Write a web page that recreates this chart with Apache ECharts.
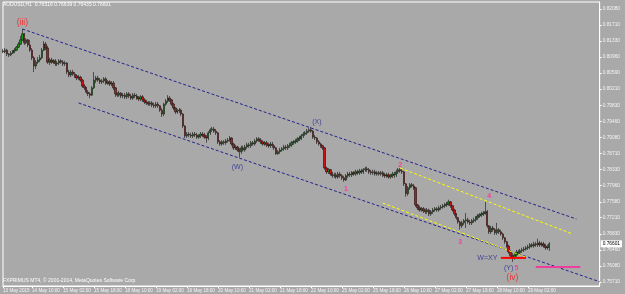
<!DOCTYPE html>
<html><head><meta charset="utf-8">
<script src="https://cdn.jsdelivr.net/npm/echarts@6/dist/echarts.min.js"></script>
<style>html,body{margin:0;padding:0;background:#a9a9a9}#c{width:625px;height:294px}</style>
</head><body><div id="c"></div><script>
const symbolName = 'AUDUSD,H1';
const copyright = 'FXPRIMUS MT4, \u00a9 2001-2014, MetaQuotes Software Corp.';
const dayNames = ['13 May','14 May','15 May','18 May','19 May','20 May','21 May','22 May','25 May','26 May','27 May','28 May','29 May'];
const firstHour = 19;
// rows: [open, close, low, high]
const may13 = [[.8110,.8108,.8105,.8115],[.8108,.8112,.8105,.8117],[.8112,.8103,.8098,.8115],[.8103,.8101,.8096,.8105],[.8101,.8105,.8098,.8110]];
const may14 = [[.8105,.8110,.8103,.8112],[.8110,.8112,.8105,.8117],[.8112,.8119,.8110,.8122],[.8119,.8126,.8117,.8131],[.8126,.8136,.8124,.8145],[.8136,.8150,.8133,.8161],[.8150,.8129,.8124,.8152],[.8129,.8136,.8126,.8140],[.8136,.8124,.8119,.8138],[.8124,.8112,.8108,.8136],[.8112,.8094,.8089,.8117],[.8094,.8075,.8061,.8098],[.8075,.8084,.8068,.8089],[.8084,.8089,.8080,.8096],[.8089,.8094,.8084,.8101],[.8094,.8112,.8091,.8117],[.8112,.8126,.8110,.8133],[.8126,.8117,.8112,.8131],[.8117,.8084,.8080,.8122],[.8084,.8089,.8077,.8094],[.8089,.8084,.8080,.8094],[.8084,.8087,.8080,.8091],[.8087,.8080,.8075,.8091],[.8080,.8082,.8075,.8087]];
const may15 = [[.8082,.8087,.8077,.8091],[.8087,.8084,.8080,.8091],[.8084,.8080,.8075,.8089],[.8080,.8082,.8075,.8087],[.8082,.8061,.8056,.8084],[.8061,.8054,.8049,.8066],[.8054,.8061,.8049,.8066],[.8061,.8056,.8052,.8066],[.8056,.8052,.8047,.8061],[.8052,.8047,.8042,.8056],[.8047,.8049,.8042,.8054],[.8049,.8042,.8038,.8052],[.8042,.8028,.8024,.8045],[.8028,.8024,.8019,.8033],[.8024,.8014,.8010,.8026],[.8014,.8010,.8005,.8019],[.8010,.8007,.8000,.8014],[.8007,.8024,.8005,.8028],[.8024,.8042,.8021,.8061],[.8042,.8047,.8035,.8052],[.8047,.8042,.8038,.8052],[.8042,.8038,.8033,.8047],[.8038,.8040,.8033,.8045],[.8040,.8045,.8035,.8049]];
const may18 = [[.8045,.8035,.8031,.8049],[.8035,.8038,.8031,.8042],[.8038,.8033,.8028,.8042],[.8033,.8035,.8028,.8040],[.8035,.8024,.8019,.8040],[.8024,.8010,.8003,.8026],[.8010,.8007,.8003,.8014],[.8007,.8012,.8003,.8017],[.8012,.8005,.8000,.8014],[.8005,.8007,.8000,.8012],[.8007,.8003,.7998,.8012],[.8003,.8010,.7998,.8014],[.8010,.8005,.8000,.8014],[.8005,.8000,.7996,.8010],[.8000,.8007,.7996,.8012],[.8007,.8005,.8000,.8012],[.8005,.8000,.7996,.8010],[.8000,.7998,.7993,.8005],[.7998,.8003,.7993,.8007],[.8003,.7996,.7991,.8007],[.7996,.7991,.7986,.8000],[.7991,.7989,.7984,.7996],[.7989,.7986,.7982,.7993],[.7986,.7989,.7982,.7993]];
const may19 = [[.7989,.7984,.7979,.7993],[.7984,.7982,.7977,.7989],[.7982,.7986,.7977,.7991],[.7986,.7982,.7977,.7991],[.7982,.7972,.7968,.7984],[.7972,.7963,.7956,.7977],[.7963,.7986,.7958,.7989],[.7986,.7993,.7982,.7998],[.7993,.8000,.7989,.8007],[.8000,.7996,.7991,.8005],[.7996,.7986,.7982,.7998],[.7986,.7977,.7972,.7989],[.7977,.7968,.7963,.7979],[.7968,.7970,.7963,.7975],[.7970,.7972,.7965,.7977],[.7972,.7963,.7958,.7975],[.7963,.7935,.7930,.7965],[.7935,.7912,.7907,.7937],[.7912,.7916,.7907,.7921],[.7916,.7914,.7909,.7921],[.7914,.7912,.7907,.7919],[.7912,.7916,.7907,.7921],[.7916,.7914,.7909,.7921],[.7914,.7909,.7905,.7919]];
const may20 = [[.7909,.7912,.7905,.7916],[.7912,.7916,.7907,.7921],[.7916,.7914,.7909,.7921],[.7914,.7909,.7905,.7919],[.7909,.7907,.7896,.7914],[.7907,.7919,.7902,.7923],[.7919,.7926,.7914,.7930],[.7926,.7928,.7921,.7933],[.7928,.7923,.7919,.7933],[.7923,.7919,.7914,.7928],[.7919,.7898,.7893,.7921],[.7898,.7893,.7889,.7902],[.7893,.7898,.7889,.7902],[.7898,.7896,.7891,.7902],[.7896,.7900,.7891,.7905],[.7900,.7902,.7896,.7907],[.7902,.7907,.7898,.7912],[.7907,.7893,.7889,.7909],[.7893,.7884,.7879,.7896],[.7884,.7886,.7879,.7891],[.7886,.7879,.7875,.7889],[.7879,.7875,.7861,.7884],[.7875,.7884,.7870,.7889],[.7884,.7879,.7875,.7889]];
const may21 = [[.7879,.7886,.7875,.7891],[.7886,.7891,.7882,.7896],[.7891,.7889,.7884,.7896],[.7889,.7896,.7884,.7900],[.7896,.7893,.7889,.7900],[.7893,.7900,.7889,.7905],[.7900,.7905,.7896,.7909],[.7905,.7902,.7898,.7909],[.7902,.7898,.7893,.7907],[.7898,.7893,.7889,.7902],[.7893,.7896,.7889,.7900],[.7896,.7891,.7886,.7900],[.7891,.7889,.7884,.7896],[.7889,.7893,.7884,.7898],[.7893,.7889,.7884,.7898],[.7889,.7884,.7879,.7893],[.7884,.7870,.7868,.7886],[.7870,.7875,.7868,.7879],[.7875,.7879,.7870,.7884],[.7879,.7882,.7875,.7886],[.7882,.7886,.7877,.7891],[.7886,.7884,.7879,.7891],[.7884,.7889,.7879,.7893],[.7889,.7891,.7884,.7896]];
const may22 = [[.7891,.7896,.7886,.7900],[.7896,.7898,.7891,.7902],[.7898,.7900,.7893,.7905],[.7900,.7905,.7896,.7909],[.7905,.7907,.7900,.7912],[.7907,.7912,.7902,.7916],[.7912,.7916,.7907,.7921],[.7916,.7919,.7912,.7923],[.7919,.7923,.7914,.7928],[.7923,.7926,.7919,.7930],[.7926,.7923,.7919,.7933],[.7923,.7909,.7905,.7926],[.7909,.7907,.7902,.7914],[.7907,.7898,.7893,.7909],[.7898,.7893,.7889,.7902],[.7893,.7889,.7884,.7896],[.7889,.7884,.7879,.7891],[.7884,.7837,.7833,.7886],[.7837,.7828,.7823,.7840],[.7828,.7833,.7823,.7837],[.7833,.7823,.7819,.7835],[.7823,.7819,.7814,.7828],[.7819,.7821,.7814,.7826],[.7821,.7816,.7812,.7826]];
const may25 = [[.7816,.7823,.7812,.7828],[.7823,.7819,.7814,.7828],[.7819,.7814,.7809,.7823],[.7814,.7809,.7805,.7819],[.7809,.7819,.7807,.7823],[.7819,.7823,.7814,.7828],[.7823,.7821,.7816,.7828],[.7821,.7826,.7816,.7830],[.7826,.7823,.7819,.7830],[.7823,.7828,.7819,.7833],[.7828,.7826,.7821,.7833],[.7826,.7830,.7821,.7835],[.7830,.7828,.7823,.7835],[.7828,.7833,.7823,.7837],[.7833,.7835,.7828,.7840],[.7835,.7833,.7828,.7840],[.7833,.7828,.7823,.7837],[.7828,.7826,.7821,.7833],[.7826,.7828,.7821,.7833],[.7828,.7823,.7819,.7833],[.7823,.7826,.7819,.7830],[.7826,.7823,.7819,.7830],[.7823,.7826,.7819,.7830],[.7826,.7821,.7816,.7830]];
const may26 = [[.7821,.7819,.7814,.7826],[.7819,.7821,.7814,.7826],[.7821,.7816,.7812,.7826],[.7816,.7819,.7812,.7823],[.7819,.7823,.7814,.7828],[.7823,.7821,.7814,.7828],[.7821,.7828,.7816,.7833],[.7828,.7833,.7823,.7837],[.7833,.7830,.7826,.7837],[.7830,.7828,.7823,.7835],[.7828,.7800,.7795,.7830],[.7800,.7777,.7770,.7802],[.7777,.7791,.7772,.7795],[.7791,.7798,.7786,.7802],[.7798,.7795,.7791,.7802],[.7795,.7791,.7786,.7800],[.7791,.7751,.7746,.7793],[.7751,.7744,.7739,.7753],[.7744,.7739,.7735,.7749],[.7739,.7742,.7735,.7746],[.7742,.7737,.7732,.7746],[.7737,.7735,.7730,.7742],[.7735,.7739,.7730,.7744],[.7739,.7730,.7725,.7742]];
const may27 = [[.7730,.7735,.7725,.7739],[.7735,.7739,.7730,.7744],[.7739,.7742,.7735,.7746],[.7742,.7739,.7735,.7746],[.7739,.7744,.7735,.7749],[.7744,.7746,.7739,.7751],[.7746,.7749,.7742,.7753],[.7749,.7751,.7744,.7756],[.7751,.7753,.7746,.7758],[.7753,.7758,.7749,.7763],[.7758,.7749,.7744,.7760],[.7749,.7739,.7735,.7751],[.7739,.7730,.7725,.7742],[.7730,.7721,.7716,.7732],[.7721,.7711,.7707,.7723],[.7711,.7702,.7693,.7714],[.7702,.7709,.7697,.7714],[.7709,.7714,.7704,.7718],[.7714,.7716,.7697,.7732],[.7716,.7711,.7707,.7721],[.7711,.7709,.7704,.7716],[.7709,.7714,.7704,.7718],[.7714,.7716,.7709,.7721],[.7716,.7721,.7711,.7725]];
const may28 = [[.7721,.7725,.7716,.7730],[.7725,.7728,.7721,.7732],[.7728,.7730,.7723,.7735],[.7730,.7732,.7725,.7737],[.7732,.7735,.7728,.7758],[.7735,.7702,.7697,.7739],[.7702,.7688,.7683,.7704],[.7688,.7697,.7683,.7702],[.7697,.7693,.7688,.7702],[.7693,.7686,.7681,.7697],[.7686,.7693,.7681,.7709],[.7693,.7688,.7683,.7697],[.7688,.7683,.7679,.7693],[.7683,.7674,.7669,.7686],[.7674,.7665,.7660,.7676],[.7665,.7655,.7651,.7667],[.7655,.7641,.7637,.7658],[.7641,.7632,.7625,.7646],[.7632,.7627,.7618,.7639],[.7627,.7634,.7623,.7639],[.7634,.7641,.7630,.7646],[.7641,.7639,.7634,.7646],[.7639,.7644,.7634,.7648],[.7644,.7646,.7639,.7651]];
const may29 = [[.7646,.7648,.7641,.7653],[.7648,.7651,.7644,.7655],[.7651,.7653,.7646,.7658],[.7653,.7658,.7648,.7662],[.7658,.7655,.7651,.7662],[.7655,.7660,.7651,.7665],[.7660,.7658,.7653,.7665],[.7658,.7662,.7653,.7672],[.7662,.7658,.7653,.7667],[.7658,.7660,.7653,.7665],[.7660,.7655,.7651,.7665],[.7655,.7651,.7646,.7660],[.7651,.76516,.7646,.7658],[.76516,.76601,.76435,.76639]];
const dayBars = [may13,may14,may15,may18,may19,may20,may21,may22,may25,may26,may27,may28,may29];

const timeTicks = ['13 May 19:00','14 May 10:00','15 May 02:00','15 May 18:00','18 May 10:00','19 May 02:00','19 May 18:00','20 May 10:00','21 May 02:00','21 May 18:00','22 May 10:00','25 May 02:00','25 May 18:00','26 May 10:00','27 May 02:00','27 May 18:00','28 May 10:00','29 May 02:00'];
const firstTickLabel = '13 May 2015';
const priceTicks = [0.82080,0.81710,0.81330,0.80960,0.80590,0.80210,0.79830,0.79460,0.79080,0.78710,0.78330,0.77960,0.77580,0.77210,0.76830,0.76460,0.76080,0.75710];

// channel / trend lines: [barIndex, price] endpoints
const upperChannel = [[10,0.81613],[296,0.77180]];
const lowerChannel = [[39,0.79887],[308,0.75717]];
const upperYellow = [[205,0.78370],[294,0.76830]];
const lowerYellow = [[196,0.77553],[271,0.76273]];
const redLevel = [[257,0.76273],[270,0.76273]];
const pinkLevel = [[275,0.76060],[298,0.76060]];

// wave labels
const waveText  = ['(iii)','(W)','(X)','1','2','3','4','5','(Y)','W=XY','(iv)'];
const waveBar   = [10,121,162,177,205,236,251,265,261,250,263];
const wavePrice = [0.81760,0.78401,0.79436,0.77880,0.78433,0.76651,0.77717,0.76037,0.76037,0.76277,0.75820];
const waveDegree= ['major','inter','inter','minor','minor','minor','minor','minor','inter','inter','major'];

const yMin = 0.75617, yMax = 0.82243, axisSlots = 309;

const categories = [], ohlc = [];
dayBars.forEach((bars, d) => {
  const h0 = d === 0 ? firstHour : 0;
  bars.forEach((b, k) => {
    categories.push(dayNames[d] + ' ' + String(h0 + k).padStart(2, '0') + ':00');
    ohlc.push(b);
  });
});
while (categories.length < axisSlots) categories.push('');
const last = ohlc[ohlc.length - 1];
const lastClose = last[1];
const f5 = v => v.toFixed(5);

const degreeStyle = {
  major: {color:'#ff1010', fontSize:8.5, fontWeight:'normal'},
  inter: {color:'#2a2a96', fontSize:7, fontWeight:'normal'},
  minor: {color:'#ff2d94', fontSize:7, fontWeight:'bold'}
};
const font = 'Liberation Sans';
const lineSeries = (data, color, width, type) => ({
  type:'line', data, symbol:'none', silent:true, animation:false,
  lineStyle:{color, width, type}, z:3
});

const chart = echarts.init(document.getElementById('c'), null, {renderer:'canvas'});
chart.setOption({
  animation:false,
  backgroundColor:'#a9a9a9',
  title:[
    {text: symbolName + '  ' + f5(last[0]) + ' ' + f5(last[3]) + ' ' + f5(last[2]) + ' ' + f5(last[1]),
     left:3, top:2, padding:0, textStyle:{color:'#ffffff', fontSize:5, fontWeight:'normal', fontFamily:font}},
    {text: copyright, left:3, top:278, padding:0,
     textStyle:{color:'#ffffff', fontSize:5, fontWeight:'normal', fontFamily:font}}
  ],
  grid:{left:2, right:21, top:2, bottom:8, show:true, borderColor:'#ffffff', borderWidth:1, backgroundColor:'transparent'},
  xAxis:{
    type:'category', data:categories, boundaryGap:false,
    axisLine:{lineStyle:{color:'#ffffff'}},
    axisTick:{show:true, length:2, interval:(i, v) => timeTicks.includes(v), lineStyle:{color:'#ffffff'}},
    axisLabel:{interval:(i, v) => timeTicks.includes(v), formatter:v => v === timeTicks[0] ? firstTickLabel : v,
      color:'#f4f4f4', fontSize:4.6, fontFamily:font, align:'left', margin:2},
    splitLine:{show:false}
  },
  yAxis:[
    {type:'value', position:'right', min:yMin, max:yMax, scale:true,
     axisLine:{show:true, lineStyle:{color:'#ffffff'}},
     axisTick:{show:true, length:2, customValues:priceTicks, lineStyle:{color:'#ffffff'}},
     axisLabel:{customValues:priceTicks, formatter:f5, color:'#f4f4f4', fontSize:4.8, fontFamily:font, margin:3},
     splitLine:{show:false}},
    {type:'value', position:'right', min:yMin, max:yMax, scale:true,
     axisLine:{show:false}, axisTick:{show:false}, splitLine:{show:false},
     axisLabel:{customValues:[lastClose], formatter:f5, color:'#000000', backgroundColor:'#ffffff',
       padding:[1,2,1,2], fontSize:4.8, fontFamily:font, margin:1}}
  ],
  series:[
    {type:'candlestick', data:ohlc, barWidth:1.8, z:2,
     itemStyle:{color:'#12a012', color0:'#d01010', borderColor:'#101010', borderColor0:'#101010', borderWidth:0.6}},
    lineSeries(upperChannel, '#22228c', 1, [3,2]),
    lineSeries(lowerChannel, '#22228c', 1, [3,2]),
    lineSeries(upperYellow, '#ffff00', 1, [3,2]),
    lineSeries(lowerYellow, '#ffff00', 1, [3,2]),
    lineSeries(redLevel, '#ff0000', 2, 'solid'),
    lineSeries(pinkLevel, '#ee3f9c', 2, 'solid'),
    {type:'scatter', symbolSize:0, silent:true, z:5,
     labelLayout:{hideOverlap:false},
     data: waveText.map((t, i) => ({
       value:[waveBar[i], wavePrice[i]],
       label:{show:true, position:'inside', formatter:t, fontFamily:font,
              color:degreeStyle[waveDegree[i]].color, fontSize:degreeStyle[waveDegree[i]].fontSize,
              fontWeight:degreeStyle[waveDegree[i]].fontWeight}
     }))}
  ]
});
</script></body></html>
